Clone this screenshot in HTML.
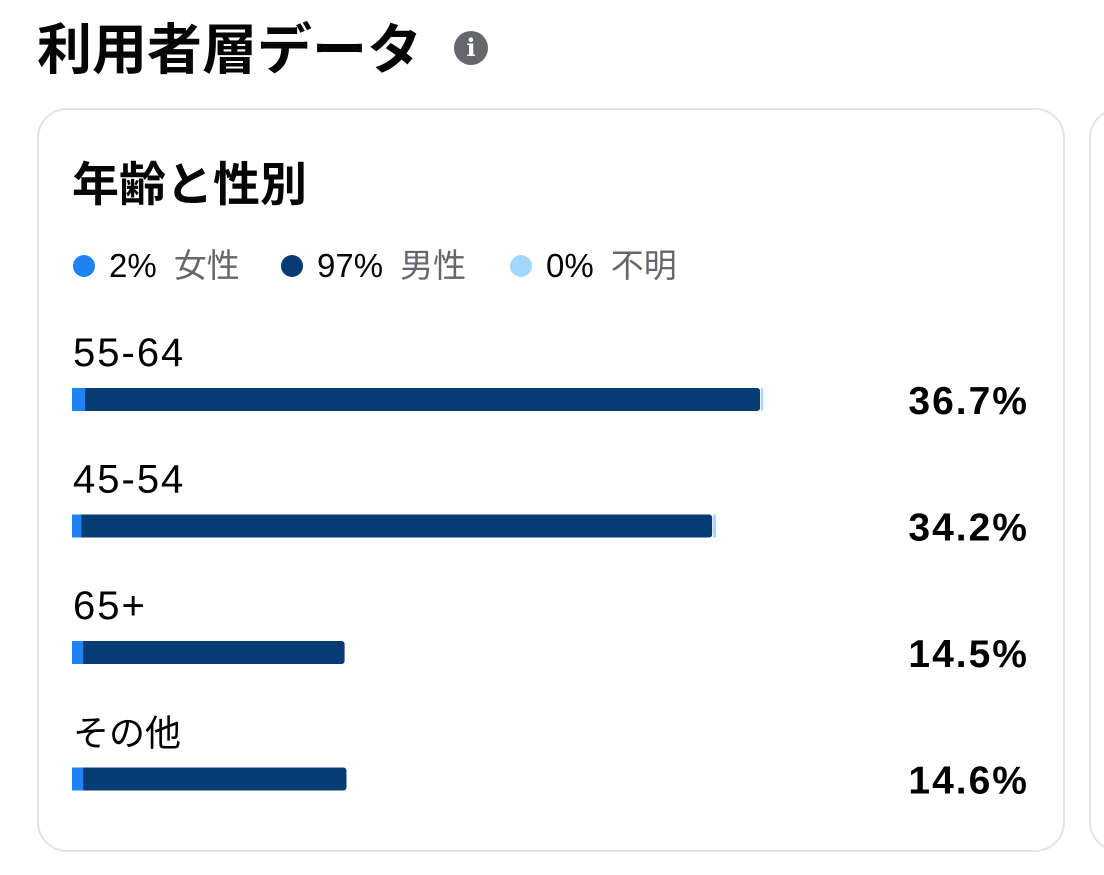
<!DOCTYPE html>
<html><head><meta charset="utf-8"><style>
body{margin:0;width:1104px;height:875px;background:#fff;font-family:"Liberation Sans","Noto Sans CJK JP",sans-serif;position:relative;overflow:hidden;color:#050505}
.abs{position:absolute}
</style></head><body>
<div class="abs" style="left:37px;top:15px;font-size:55px;font-weight:bold;line-height:70px;letter-spacing:0px">利用者層データ</div>
<div class="abs" style="left:454px;top:31px;width:34px;height:34px;border-radius:50%;background:#65676b;color:#fff;font-weight:bold;font-size:24px;line-height:34px;text-align:center;font-family:'DejaVu Serif',serif">i</div>
<div class="abs" style="left:37px;top:108px;width:1024px;height:740px;border:2px solid #e1e3e8;border-radius:30px"></div>
<div class="abs" style="left:1089px;top:108px;width:60px;height:740px;border:2px solid #e1e3e8;border-radius:30px"></div>
<div class="abs" style="left:72px;top:157px;font-size:47px;font-weight:bold;line-height:56px">年齢と性別</div>
<svg class="abs" style="left:0;top:0" width="1104" height="875" id="chart"></svg>
<script>
const legendPct=["2%","97%","0%"];
const legendLbl=["女性","男性","不明"];
const categories=["55-64","45-54","65+","その他"];
const totals=[36.7,34.2,14.5,14.6];
const female=[0.7,0.5,0.6,0.6];
const unknown=[0.1,0.15,0,0];
const colors=["#1f82f5","#063b73","#a3d6fb"];
const ns="http://www.w3.org/2000/svg";
const svg=document.getElementById('chart');
const x0=72, pxPer=18.8;
const xs=v=>v*pxPer;
function mk(t,a){const e=document.createElementNS(ns,t);for(const k in a)e.setAttribute(k,a[k]);svg.appendChild(e);return e;}
const legX=[84,292,521];
legendPct.forEach((p,i)=>{
  const c=mk('circle',{cx:legX[i],cy:266,r:11,fill:colors[i]});
  
  
  const t=mk('text',{x:legX[i]+25,y:277,'font-size':33,fill:'#050505'});
  
  
  t.textContent=p;
  const s=document.createElementNS(ns,'tspan');
  s.setAttribute('fill','#65676b');s.setAttribute('dx','17');
  s.textContent=legendLbl[i];t.appendChild(s);
});
categories.forEach((c,i)=>{
  const top=388+i*126.5;
  const cjk=/[^\x00-\x7f]/.test(c);
  const l=mk('text',{x:73,y:top-22,'font-size':cjk?36:40,'letter-spacing':cjk?0:2});
  
  
  l.textContent=c;
  const m=totals[i]-female[i]-unknown[i];
  const g=mk('g',{});
  
  
  const fw=xs(female[i]), mw=xs(m), uw=xs(unknown[i]);
  const r1=document.createElementNS(ns,'rect');
  r1.setAttribute('x',x0+fw-4);r1.setAttribute('y',top);r1.setAttribute('width',mw+4);r1.setAttribute('height',23);r1.setAttribute('rx',3);r1.setAttribute('fill',colors[1]);g.appendChild(r1);
  const r0=document.createElementNS(ns,'rect');
  r0.setAttribute('x',x0);r0.setAttribute('y',top);r0.setAttribute('width',fw);r0.setAttribute('height',23);r0.setAttribute('fill',colors[0]);g.appendChild(r0);
  if(uw>0){const r2=document.createElementNS(ns,'rect');
  r2.setAttribute('x',x0+fw+mw+1);r2.setAttribute('y',top);r2.setAttribute('width',uw);r2.setAttribute('height',23);r2.setAttribute('fill',colors[2]);g.appendChild(r2);}
  const v=mk('text',{x:1029,y:top+26,'font-size':39,'font-weight':'bold','text-anchor':'end','letter-spacing':2});
  
  
  v.textContent=totals[i].toFixed(1)+'%';
});
</script>
</body></html>
